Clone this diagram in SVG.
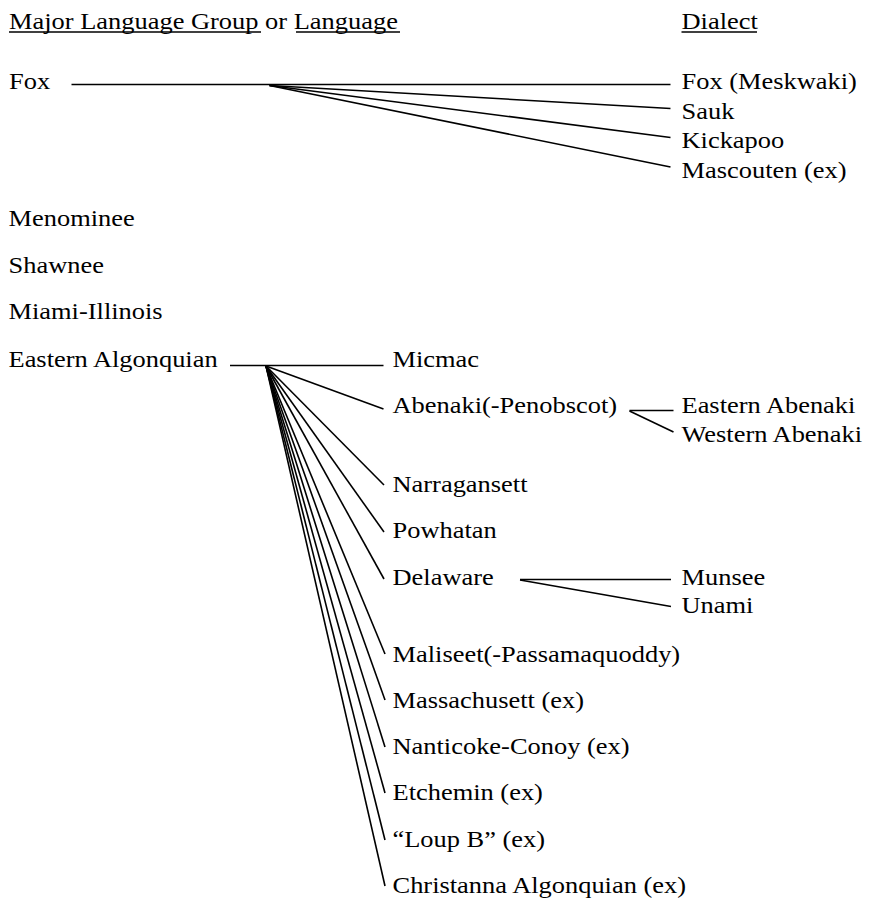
<svg xmlns="http://www.w3.org/2000/svg" width="869" height="901" viewBox="0 0 869 901">
  <style>
    text { font-family: "Liberation Serif", "Times New Roman", serif; font-size: 23.5px; fill: #000; }
    .ln { stroke: #000; stroke-width: 1.6; fill: none; stroke-linecap: butt; }
    .ul { stroke: #000; stroke-width: 1.4; }
  </style>
  <rect width="869" height="901" fill="#fff"/>

  <!-- column headings -->
  <g id="headings">
    <g transform="translate(9,28.5) scale(1.125,1)"><text>Major Language Group or Language</text></g>
    <line class="ul" x1="9" y1="32" x2="261" y2="32"/>
    <line class="ul" x1="296" y1="32" x2="400" y2="32"/>
    <g transform="translate(681.5,28.5) scale(1.125,1)"><text>Dialect</text></g>
    <line class="ul" x1="681.5" y1="32" x2="757" y2="32"/>
  </g>

  <!-- connectors -->
  <g id="connectors">
    <!-- Fox -->
    <line class="ln" x1="71.5" y1="84.5" x2="670.5" y2="84.5"/>
    <line class="ln" x1="269.5" y1="85.5" x2="670.5" y2="108.5"/>
    <line class="ln" x1="269.5" y1="85.5" x2="670.5" y2="137.5"/>
    <line class="ln" x1="269.5" y1="85.5" x2="670.5" y2="167"/>
    <!-- Eastern Algonquian -->
    <line class="ln" x1="230" y1="365.5" x2="383.5" y2="365.5"/>
    <line class="ln" x1="266" y1="366" x2="383.5" y2="409"/>
    <line class="ln" x1="266" y1="366" x2="384" y2="485"/>
    <line class="ln" x1="266" y1="366" x2="384" y2="532"/>
    <line class="ln" x1="266" y1="366" x2="384" y2="579"/>
    <line class="ln" x1="266" y1="366" x2="385" y2="654"/>
    <line class="ln" x1="266" y1="366" x2="385" y2="700"/>
    <line class="ln" x1="266" y1="366" x2="385" y2="747"/>
    <line class="ln" x1="266" y1="366" x2="385" y2="793"/>
    <line class="ln" x1="266" y1="366" x2="385" y2="840"/>
    <line class="ln" x1="266" y1="366" x2="385" y2="886"/>
    <!-- Abenaki(-Penobscot) -->
    <line class="ln" x1="629.5" y1="410.5" x2="673.5" y2="410.5"/>
    <line class="ln" x1="629.5" y1="411" x2="673.5" y2="432"/>
    <!-- Delaware -->
    <line class="ln" x1="520" y1="579.5" x2="671" y2="579.5"/>
    <line class="ln" x1="520" y1="580" x2="671" y2="606.5"/>
  </g>

  <!-- languages / groups -->
  <g id="fox"><g transform="translate(9,89) scale(1.125,1)"><text>Fox</text></g></g>
  <g id="menominee"><g transform="translate(8.5,225.5) scale(1.125,1)"><text>Menominee</text></g></g>
  <g id="shawnee"><g transform="translate(8.5,272.5) scale(1.125,1)"><text>Shawnee</text></g></g>
  <g id="miami-illinois"><g transform="translate(8.5,319.3) scale(1.125,1)"><text>Miami-Illinois</text></g></g>
  <g id="eastern-algonquian"><g transform="translate(8.5,366.5) scale(1.125,1)"><text>Eastern Algonquian</text></g></g>

  <!-- Fox dialects -->
  <g id="fox-meskwaki"><g transform="translate(681.5,89) scale(1.125,1)"><text>Fox (Meskwaki)</text></g></g>
  <g id="sauk"><g transform="translate(681.5,119) scale(1.125,1)"><text>Sauk</text></g></g>
  <g id="kickapoo"><g transform="translate(681.5,148.3) scale(1.125,1)"><text>Kickapoo</text></g></g>
  <g id="mascouten"><g transform="translate(681.5,177.8) scale(1.125,1)"><text>Mascouten (ex)</text></g></g>

  <!-- Eastern Algonquian languages -->
  <g id="micmac"><g transform="translate(392.5,366.5) scale(1.125,1)"><text>Micmac</text></g></g>
  <g id="abenaki"><g transform="translate(392.5,413.3) scale(1.125,1)"><text>Abenaki(-Penobscot)</text></g></g>
  <g id="narragansett"><g transform="translate(392.5,491.7) scale(1.125,1)"><text>Narragansett</text></g></g>
  <g id="powhatan"><g transform="translate(392.5,538.3) scale(1.125,1)"><text>Powhatan</text></g></g>
  <g id="delaware"><g transform="translate(392.5,585) scale(1.125,1)"><text>Delaware</text></g></g>
  <g id="maliseet"><g transform="translate(392.5,661.7) scale(1.125,1)"><text>Maliseet(-Passamaquoddy)</text></g></g>
  <g id="massachusett"><g transform="translate(392.5,707.5) scale(1.125,1)"><text>Massachusett (ex)</text></g></g>
  <g id="nanticoke-conoy"><g transform="translate(392.5,753.5) scale(1.125,1)"><text>Nanticoke-Conoy (ex)</text></g></g>
  <g id="etchemin"><g transform="translate(392.5,800) scale(1.125,1)"><text>Etchemin (ex)</text></g></g>
  <g id="loup-b"><g transform="translate(392.5,846.7) scale(1.125,1)"><text>“Loup B” (ex)</text></g></g>
  <g id="christanna"><g transform="translate(392.5,893.3) scale(1.125,1)"><text>Christanna Algonquian (ex)</text></g></g>

  <!-- Abenaki and Delaware dialects -->
  <g id="eastern-abenaki"><g transform="translate(681.5,413.3) scale(1.125,1)"><text>Eastern Abenaki</text></g></g>
  <g id="western-abenaki"><g transform="translate(681.5,441.7) scale(1.125,1)"><text>Western Abenaki</text></g></g>
  <g id="munsee"><g transform="translate(681.5,584.5) scale(1.125,1)"><text>Munsee</text></g></g>
  <g id="unami"><g transform="translate(681.5,613.3) scale(1.125,1)"><text>Unami</text></g></g>
</svg>
